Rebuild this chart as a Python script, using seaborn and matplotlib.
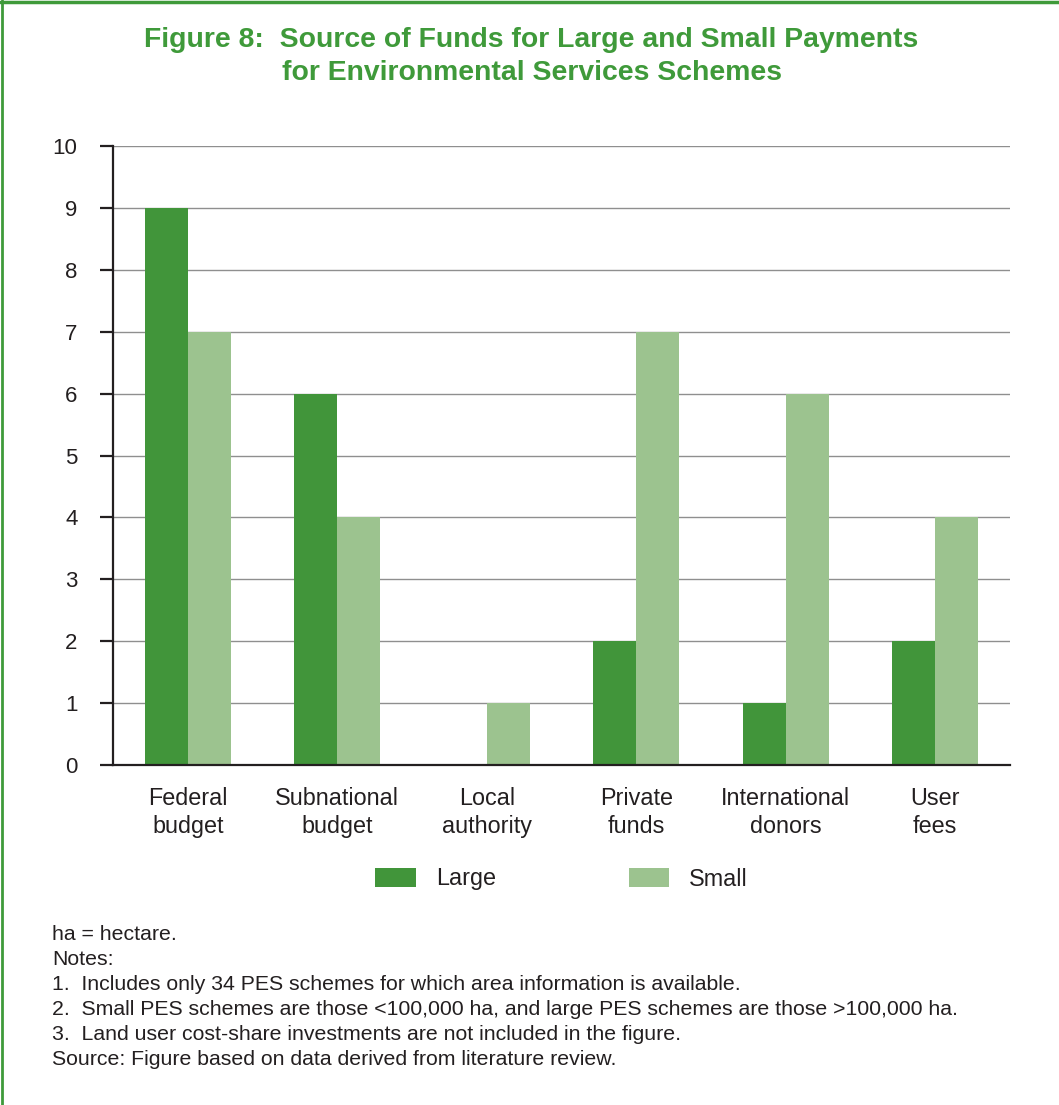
import matplotlib
matplotlib.use("Agg")
import matplotlib.pyplot as plt
import seaborn as sns
import pandas as pd
from matplotlib.lines import Line2D

# ---- data ----
categories = ["Federal\nbudget", "Subnational\nbudget", "Local\nauthority",
              "Private\nfunds", "International\ndonors", "User\nfees"]
large = [9, 6, 0, 2, 1, 2]
small = [7, 4, 1, 7, 6, 4]
series_names = ["Large", "Small"]
yticks = list(range(0, 11))

title_lines = ["Figure 8:  Source of Funds for Large and Small Payments",
               "for Environmental Services Schemes"]
notes = ["ha = hectare.",
         "Notes:",
         "1.  Includes only 34 PES schemes for which area information is available.",
         "2.  Small PES schemes are those <100,000 ha, and large PES schemes are those >100,000 ha.",
         "3.  Land user cost-share investments are not included in the figure.",
         "Source: Figure based on data derived from literature review."]

df = pd.DataFrame({
    "category": categories * 2,
    "value": large + small,
    "size": [series_names[0]] * len(categories) + [series_names[1]] * len(categories),
})

DARK = "#41953A"
LIGHT = "#9CC38F"
TITLE_C = "#3F9A3A"
TEXT_C = "#231F20"

sns.set_theme(style="white")
plt.rcParams["font.family"] = ["Liberation Sans", "DejaVu Sans"]

fig = plt.figure(figsize=(10.59, 11.05), dpi=100)
ax = fig.add_axes([113 / 1059, 1 - 765 / 1105, (1010 - 113) / 1059, (765 - 146) / 1105])

sns.barplot(data=df, x="category", y="value", hue="size", order=categories,
            hue_order=series_names, palette=[DARK, LIGHT], width=0.575,
            saturation=1, ax=ax, legend=True, linewidth=0, edgecolor="none")

ax.set_xlim(-0.5, len(categories) - 0.5)
ax.set_ylim(0, 10)
ax.set_yticks(yticks)
ax.set_yticklabels([str(t) for t in yticks])
ax.set_xlabel("")
ax.set_ylabel("")

ax.yaxis.grid(True, color="#8f8f8f", linewidth=1.0)
ax.xaxis.grid(False)
ax.set_axisbelow(True)

for s in ["top", "right"]:
    ax.spines[s].set_visible(False)
for s in ["left", "bottom"]:
    ax.spines[s].set_visible(True)
    ax.spines[s].set_color(TEXT_C)
    ax.spines[s].set_linewidth(1.6)

ax.tick_params(axis="y", which="major", left=True, length=9.5, width=1.6,
               color=TEXT_C, pad=16, labelsize=16, labelcolor=TEXT_C)
ax.tick_params(axis="x", which="major", bottom=False, length=0, pad=16,
               labelsize=16.8, labelcolor=TEXT_C)
for lab in ax.get_xticklabels():
    lab.set_linespacing(1.25)

# legend
handles, labels = ax.get_legend_handles_labels()
ax.legend(handles, labels, loc="center", ncol=2, frameon=False,
          bbox_to_anchor=(561.5 / 1059, 1 - 879 / 1105), bbox_transform=fig.transFigure,
          fontsize=16.8, handlelength=1.75, handleheight=0.85, handletextpad=0.85,
          columnspacing=5.7, labelcolor=TEXT_C)

# title
fig.text(531 / 1059, 1 - 40 / 1105, title_lines[0], ha="center", va="center",
         fontsize=20.4, fontweight="bold", color=TITLE_C)
fig.text(532 / 1059, 1 - 73 / 1105, title_lines[1], ha="center", va="center",
         fontsize=20.4, fontweight="bold", color=TITLE_C)

# notes
for i, line in enumerate(notes):
    fig.text(52 / 1059, 1 - (940 + 25 * i) / 1105, line, ha="left", va="baseline",
             fontsize=15.3, color=TEXT_C)

# border (top and left)
fig.add_artist(Line2D([0, 1], [1 - 2 / 1105, 1 - 2 / 1105], transform=fig.transFigure,
                      color=TITLE_C, linewidth=2.5))
fig.add_artist(Line2D([2 / 1059, 2 / 1059], [0, 1], transform=fig.transFigure,
                      color=TITLE_C, linewidth=2.0))

fig.savefig("out.png", dpi=100, facecolor="white")
